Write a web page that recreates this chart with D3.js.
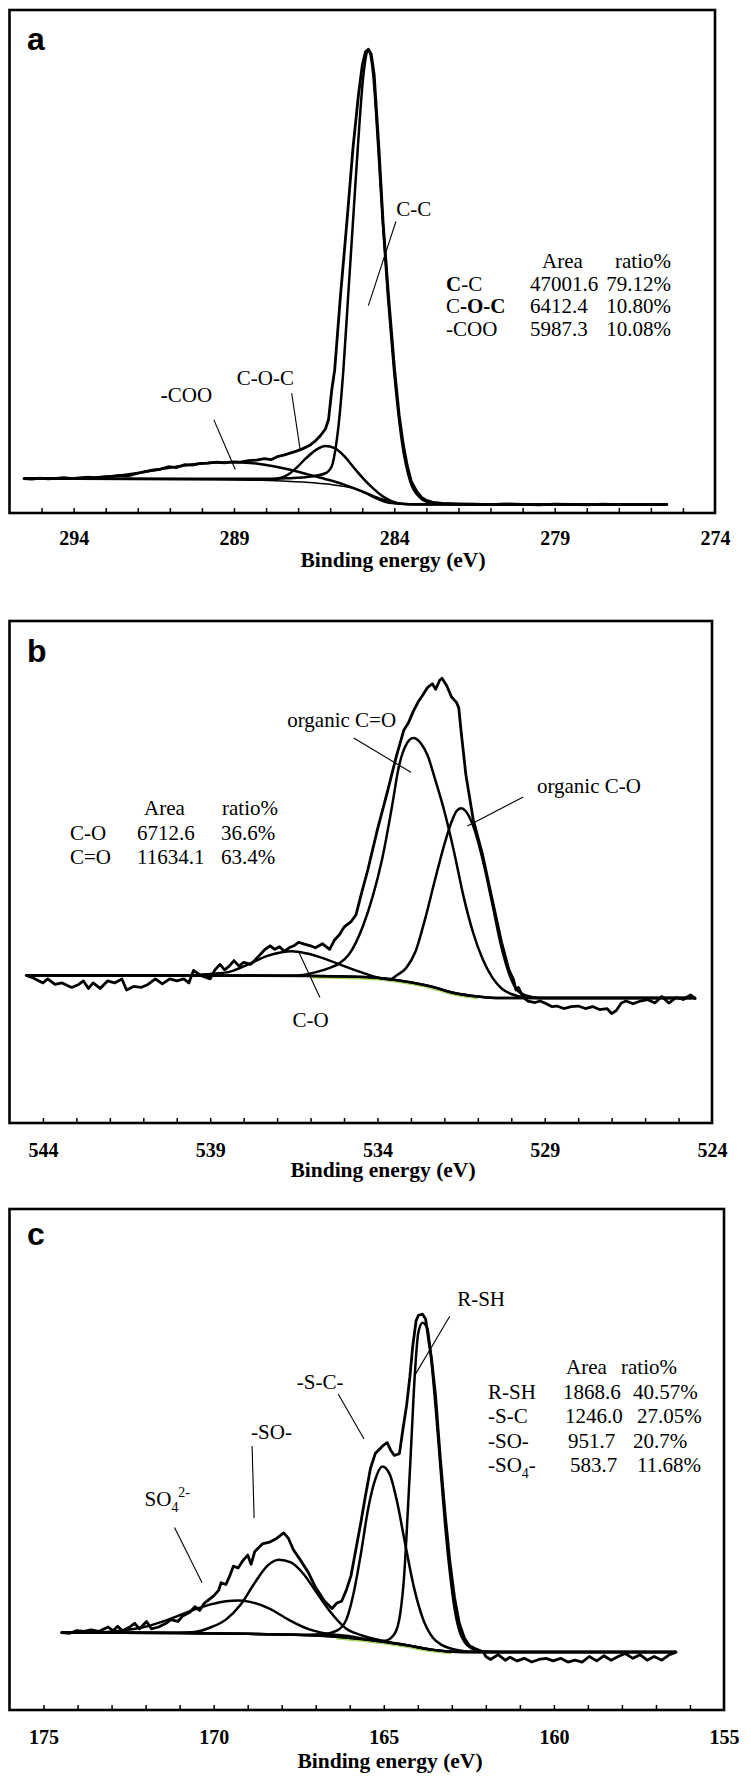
<!DOCTYPE html>
<html><head><meta charset="utf-8">
<script src="https://cdn.jsdelivr.net/npm/d3@7"></script>
<style>
body{margin:0;background:#fff}svg{display:block}
svg text{font-family:"Liberation Serif","Times New Roman","DejaVu Serif",serif}
svg text.sans{font-family:"Liberation Sans",Arial,"DejaVu Sans",sans-serif}
</style>
</head><body>
<svg id="chart" width="751" height="1779"></svg>
<script>
// ---------------- DATA ----------------
// x domains (binding energy, eV; reversed) and tick labels
const xDomainA = [296, 274], xDomainB = [545, 524], xDomainC = [176, 155];
const tickLabelsA = [294, 289, 284, 279, 274];
const tickLabelsB = [544, 539, 534, 529, 524];
const tickLabelsC = [175, 170, 165, 160, 155];
const axisTitle = "Binding energy (eV)";

// Panel a: C 1s  [eV, intensity (a.u.)]
const rawA = [[295.55,6.85],[295.3,6.75],[295.05,6.95],[294.8,6.8],[294.55,6.9],[294.3,7.05],[294.05,6.85],[293.8,7.0],[293.55,7.15],[293.3,6.95],[293.05,7.2],[292.8,7.3],[292.55,7.5],[292.3,7.4],[292.05,7.8],[291.8,8.2],[291.55,8.5],[291.3,8.7],[291.05,9.2],[290.8,9.0],[290.55,9.6],[290.3,9.5],[290.05,9.85],[289.8,9.9],[289.55,10.1],[289.3,9.95],[289.05,10.15],[288.8,10.1],[288.55,10.4],[288.3,10.5],[288.05,10.8],[287.85,10.6],[287.65,11.2],[287.45,11.5],[287.25,11.9],[287.05,12.3],[286.85,12.8],[286.65,13.4],[286.45,14.4],[286.3,15.4],[286.15,16.7],[286.05,18.6],[285.95,24.5],[285.86,28.4],[285.68,43.1],[285.48,57.8],[285.29,72.5],[285.12,83.0],[285.0,89.0],[284.9,91.7],[284.81,92.2],[284.72,91.2],[284.63,87.3],[284.48,72.5],[284.35,57.8],[284.18,43.1],[283.99,28.4],[283.85,19.5],[283.72,13.6],[283.6,9.5],[283.47,6.3],[283.3,4.3],[283.15,3.1],[283.0,2.5],[282.8,2.1],[282.5,1.9],[282.0,1.8],[281.5,1.75],[281,1.65],[280.5,1.8],[280,1.7],[279.5,1.6],[279,1.75],[278.5,1.7],[278,1.62],[277.5,1.78],[277,1.68],[276.5,1.72],[276,1.65],[275.5,1.7]];
const ccA = [[295.55,6.85],[290,6.8],[288,6.8],[287.35,6.9],[286.6,7.25],[286.15,7.9],[285.95,9.3],[285.84,12.5],[285.74,17.3],[285.59,28.3],[285.44,43.1],[285.29,57.8],[285.14,72.5],[284.96,87.3],[284.81,91.8],[284.66,87.3],[284.5,72.5],[284.36,57.8],[284.2,43.1],[284.01,28.4],[283.75,13.6],[283.5,6.2],[283.22,3.2],[282.9,2.1],[282.0,1.75],[275.49,1.7]];
const cocA = [[295.55,6.85],[289,6.65],[288,6.6],[287.6,6.9],[287.35,7.5],[287.05,9.0],[286.75,10.9],[286.45,12.5],[286.15,13.3],[285.86,12.9],[285.56,11.3],[285.26,9.0],[284.96,6.8],[284.66,4.9],[284.36,3.3],[284.07,2.3],[283.7,1.8],[283.0,1.7],[275.49,1.7]];
const cooA = [[295.55,6.85],[294,6.9],[293,7.2],[292.5,7.5],[292,7.95],[291.5,8.5],[291,9.0],[290.5,9.5],[290,9.85],[289.5,10.05],[289,10.1],[288.5,9.95],[288,9.55],[287.5,8.95],[287,8.2],[286.5,7.35],[286,6.5],[285.5,5.5],[285,4.3],[284.6,3.2],[284.2,2.3],[283.8,1.85],[283.3,1.72],[275.49,1.7]];
const bgA = [[295.55,6.85],[291,6.8],[289,6.65],[287.5,6.35],[286.5,6.0],[286,5.7],[285.5,5.2],[285.2,4.7],[284.9,3.9],[284.6,2.9],[284.3,2.15],[284.0,1.85],[283.5,1.72],[275.49,1.7]];

// Panel b: O 1s
const rawB = [[544.5,29.4],[544.29,28.9],[544.0,27.9],[543.86,28.7],[543.64,27.6],[543.43,27.9],[543.14,27.0],[542.93,27.6],[542.79,28.3],[542.64,26.8],[542.5,27.9],[542.29,26.8],[542.07,28.3],[541.86,27.9],[541.64,28.7],[541.5,26.5],[541.29,27.2],[541.07,27.0],[540.86,27.6],[540.64,28.7],[540.43,27.7],[540.21,28.7],[540.0,28.3],[539.79,28.7],[539.64,27.9],[539.5,30.4],[539.29,29.4],[539.0,28.7],[538.86,30.5],[538.71,31.6],[538.57,30.5],[538.43,31.25],[538.29,32.35],[538.14,31.25],[538.0,32.0],[537.79,31.6],[537.57,33.1],[537.36,34.6],[537.21,35.3],[537.07,34.6],[536.93,35.1],[536.79,34.2],[536.64,34.9],[536.5,35.3],[536.36,36.0],[536.21,35.7],[536.0,35.3],[535.86,34.9],[535.64,35.7],[535.43,34.6],[535.29,36.4],[535.14,37.5],[535.0,39.0],[534.79,40.1],[534.64,41.5],[534.5,45.2],[534.29,50.4],[534.0,58.5],[533.71,65.8],[533.43,73.2],[533.21,78.3],[533.07,79.8],[532.93,82.0],[532.79,83.8],[532.64,85.3],[532.5,86.8],[532.36,87.5],[532.26,86.4],[532.14,88.2],[532.07,88.6],[531.93,87.1],[531.79,84.9],[531.64,83.8],[531.57,82.7],[531.5,78.0],[531.36,69.5],[531.14,60.5],[530.86,53.5],[530.57,44.5],[530.29,36.0],[530.07,30.5],[529.93,28.5],[529.86,26.5],[529.79,27.0],[529.64,25.0],[529.5,24.3],[529.29,24.0],[529.14,24.3],[529.0,23.9],[528.79,23.2],[528.64,23.3],[528.43,22.8],[528.21,23.2],[528.0,23.3],[527.79,22.8],[527.57,23.2],[527.36,22.6],[527.14,22.8],[527.0,21.8],[526.86,22.4],[526.71,23.9],[526.57,24.3],[526.36,23.75],[526.14,24.3],[525.93,24.6],[525.71,23.9],[525.5,25.2],[525.29,23.9],[525.07,25.0],[524.86,24.6],[524.64,25.5],[524.5,24.8]];
const coB = [[544.5,29.4],[539.5,29.45],[539,29.7],[538.43,30.1],[537.86,31.6],[537.29,33.3],[536.86,34.0],[536.57,34.2],[536.14,33.8],[535.57,32.7],[535.0,31.25],[534.43,29.9],[534.0,29.0],[533.2,28.25],[532.4,27.2],[531.7,25.9],[531,25.2],[530.3,24.9],[524.5,24.9]];
const orgCeqOB = [[544.5,29.4],[537,29.35],[536.4,29.4],[535.86,30.0],[535.43,30.9],[535.14,31.8],[534.86,33.5],[534.43,39.3],[534.14,45.2],[533.86,52.6],[533.57,62.9],[533.36,71.0],[533.14,75.4],[532.93,76.7],[532.71,75.7],[532.5,73.2],[532.29,68.75],[532.0,62.1],[531.71,54.0],[531.43,45.2],[531.14,37.9],[530.86,32.7],[530.57,29.0],[530.29,26.8],[530.0,25.7],[529.57,25.0],[528.86,24.9],[524.5,24.9]];
const orgCOB = [[544.5,29.4],[536,29.3],[535,29.2],[534,28.95],[533.6,28.7],[533.43,29.4],[533.14,30.9],[532.86,34.2],[532.57,40.8],[532.29,48.2],[532.0,55.5],[531.79,59.9],[531.64,62.1],[531.5,62.7],[531.36,62.1],[531.14,59.2],[530.86,52.6],[530.57,43.75],[530.29,34.9],[530.07,29.8],[529.86,26.8],[529.57,25.4],[529.14,24.9],[524.5,24.9]];
const bgB = [[544.5,29.4],[538,29.4],[536,29.3],[535,29.2],[534,28.9],[533.2,28.2],[532.4,27.2],[531.7,25.9],[531,25.2],[530.3,24.9],[524.5,24.9]];

// Panel c: S 2p
const rawC = [[174.47,15.46],[174.23,15.32],[174.02,15.83],[173.81,15.68],[173.6,15.98],[173.38,15.68],[173.1,16.57],[172.96,15.83],[172.82,16.72],[172.68,15.83],[172.46,16.57],[172.32,17.3],[172.18,16.2],[171.97,17.67],[171.83,16.2],[171.62,16.57],[171.4,17.3],[171.26,18.04],[171.05,17.67],[170.91,18.78],[170.7,19.51],[170.55,20.62],[170.41,19.88],[170.27,21.35],[170.13,22.09],[169.99,22.83],[169.85,23.93],[169.78,25.41],[169.64,25.04],[169.52,26.88],[169.42,28.72],[169.28,28.35],[169.14,29.82],[169.0,30.93],[168.9,29.09],[168.79,31.66],[168.57,33.14],[168.36,33.5],[168.15,34.24],[167.94,35.35],[167.8,34.24],[167.66,32.03],[167.44,29.82],[167.23,27.61],[167.02,24.67],[166.88,23.2],[166.74,21.72],[166.52,20.25],[166.38,21.35],[166.24,21.72],[166.1,23.93],[165.96,26.88],[165.82,32.03],[165.68,37.19],[165.53,43.08],[165.39,48.23],[165.25,51.18],[165.04,52.65],[164.9,53.39],[164.8,51.91],[164.69,50.81],[164.54,51.18],[164.43,56.33],[164.33,60.75],[164.23,66.64],[164.15,72.53],[164.05,77.69],[163.98,78.79],[163.86,79.01],[163.77,78.06],[163.67,73.27],[163.6,70.32],[163.48,62.96],[163.34,50.44],[163.2,39.4],[163.06,29.82],[162.92,22.46],[162.78,17.3],[162.63,14.36],[162.49,12.89],[162.28,12.15],[162.07,11.56],[162.0,10.68],[161.86,10.09],[161.64,11.05],[161.43,9.94],[161.29,10.53],[161.08,9.8],[160.87,10.31],[160.65,9.57],[160.44,10.09],[160.23,10.31],[160.02,9.8],[159.8,10.31],[159.59,9.57],[159.38,9.94],[159.17,9.57],[158.96,10.68],[158.74,9.8],[158.53,10.82],[158.32,9.94],[158.11,10.68],[157.9,11.27],[157.68,10.31],[157.47,11.05],[157.26,9.94],[157.05,10.68],[156.83,9.94],[156.62,10.97],[156.41,11.56]];
const rshC = [[174.47,15.46],[171,15.35],[169,15.2],[167.8,15.05],[166.4,14.65],[165.6,14.15],[164.97,13.8],[164.69,15.1],[164.51,19.51],[164.4,26.88],[164.29,40.13],[164.19,53.39],[164.09,66.64],[163.98,75.48],[163.86,77.32],[163.72,76.2],[163.62,71.06],[163.48,60.75],[163.34,48.97],[163.2,37.19],[163.06,27.61],[162.92,20.25],[162.78,15.83],[162.63,13.62],[162.42,12.3],[162.14,11.71],[161.5,11.56],[156.41,11.56]];
const scC = [[174.47,15.46],[171,15.35],[169,15.2],[167.8,15.05],[167.23,15.02],[166.81,15.1],[166.38,15.83],[166.1,18.04],[165.89,23.2],[165.67,31.3],[165.46,40.13],[165.25,46.03],[165.04,48.6],[164.83,47.13],[164.61,41.6],[164.4,34.24],[164.12,24.67],[163.84,18.04],[163.55,14.36],[163.27,12.89],[162.85,12.0],[162.42,11.63],[161.8,11.56],[156.41,11.56]];
const soC = [[174.47,15.46],[171.5,15.4],[170.63,15.5],[170.06,16.57],[169.64,18.04],[169.21,21.0],[168.79,25.41],[168.43,28.72],[168.08,29.97],[167.73,29.45],[167.37,27.25],[166.95,23.2],[166.52,19.15],[166.1,16.2],[165.67,14.95],[165.1,13.9],[164.3,12.95],[163.6,12.05],[163,11.65],[162.5,11.56],[156.41,11.56]];
const so4C = [[174.47,15.46],[173.5,15.5],[172.75,15.83],[172.04,16.57],[171.33,18.04],[170.63,19.88],[170.06,21.13],[169.64,21.72],[169.28,21.87],[168.93,21.58],[168.36,20.25],[167.8,18.04],[167.23,16.2],[166.66,15.24],[166.1,14.8],[165.5,14.1],[165,13.6],[164.3,12.9],[163.6,12.05],[163,11.65],[162.5,11.56],[156.41,11.56]];
const bgC = [[174.47,15.46],[171,15.35],[169,15.2],[167.8,15.05],[166.4,14.6],[165.6,14.1],[165,13.6],[164.3,12.9],[163.6,12.05],[163,11.65],[162.5,11.56],[156.41,11.56]];

// Tables (area / ratio)
const tableHead = ["Area", "ratio%"];
const tableRowsA = [["C-C","47001.6","79.12%"],["C-O-C","6412.4","10.80%"],["-COO","5987.3","10.08%"]];
const tableRowsB = [["C-O","6712.6","36.6%"],["C=O","11634.1","63.4%"]];
const tableRowsC = [["R-SH","1868.6","40.57%"],["-S-C","1246.0","27.05%"],["-SO-","951.7","20.7%"],["-SO4-","583.7","11.68%"]];

// Peak labels: [text, eV, intensity] and leader lines [eV1, I1, eV2, I2]
const labelsA = [["C-C",283.39,59.05],["C-O-C",288.02,25.35],["-COO",290.48,21.97]];
const leadersA = [[283.95,57.95,284.81,41.23],[287.2,23.8,286.93,12.31],[289.63,18.57,288.96,8.63]];
const labelsB = [["organic C=O",535.07,78.96],["organic C-O",527.68,65.74],["C-O",536.0,19.18]];
const leadersB = [[534.71,76.69,533.0,69.86],[529.64,64.94,531.31,59.18],[536.36,34.18,535.72,25.0]];
const labelsC = [["R-SH",162.14,80.72],["-S-C-",166.87,64.07],["-SO-",168.3,54.09],["SO42-",172.03,40.8]];
const leadersC = [[163.06,78.58,164.09,66.79],[166.34,63.07,165.58,54.09],[168.87,52.7,168.81,38.3],[171.15,36.43,170.34,25.41]];

// ---------------- DRAWING ----------------
const SERIF = '"Liberation Serif","Times New Roman","DejaVu Serif",serif';
const SANS = '"Liberation Sans",Arial,"DejaVu Sans",sans-serif';
const svg = d3.select("#chart");
svg.append("rect").attr("width",751).attr("height",1779).attr("fill","#fff");

const RICH = {
  "table:C-C": [["C","b"],["-C",""]],
  "table:C-O-C": [["C",""],["-O-C","b"]],
  "table:-SO4-": [["-SO",""],["4","sub"],["-",""]],
  "label:-COO": [["-","b"],["COO",""]],
  "label:SO42-": [["SO",""],["4","sub"],["2-","sup"]]
};
function richText(g, key, str, x, y, anchor, size){
  const t = g.append("text").attr("x",x).attr("y",y).attr("text-anchor",anchor)
    .style("font-family",SERIF).style("font-size",size+"px").attr("fill","#000");
  const parts = RICH[key+":"+str] || [[str,""]];
  let shift = 0;
  parts.forEach(([s,mode])=>{
    const ts = t.append("tspan").text(s);
    const target = mode==="sub" ? size*0.3 : mode==="sup" ? -size*0.4 : 0;
    if (target !== shift){ ts.attr("dy", target-shift); shift = target; }
    if (mode==="sub"||mode==="sup") ts.style("font-size", (size*0.66)+"px");
    if (mode==="b") ts.style("font-weight","bold");
  });
  return t;
}

const panels = [
  { letter:"a", frame:{l:9.5,t:10,r:715,b:513}, xd:xDomainA, labels:tickLabelsA, letterY:50, tickY:545, titleX:393, titleY:567,
    raw:rawA, comps:[cooA,cocA,ccA], bg:bgA, bgW:1.5, green:null,
    peakLabels:labelsA, leaders:leadersA,
    table:{rows:tableRowsA, headY:268, dy:22.5, headX:[542,671], headAnchor:["start","end"], nameX:446, areaX:[530,530,530], ratioX:[671,671,671], ratioAnchor:"end"} },
  { letter:"b", frame:{l:9.5,t:621,r:712,b:1123}, xd:xDomainB, labels:tickLabelsB, letterY:662, tickY:1157, titleX:383, titleY:1177,
    raw:rawB, comps:[coB,orgCeqOB,orgCOB], bg:bgB, bgW:2.4, green:[536.5,530.5],
    peakLabels:labelsB, leaders:leadersB,
    table:{rows:tableRowsB, headY:815, dy:24.5, headX:[144,222], headAnchor:["start","start"], nameX:70, areaX:[137,137], ratioX:[221,221], ratioAnchor:"start"} },
  { letter:"c", frame:{l:9.5,t:1209,r:724,b:1710}, xd:xDomainC, labels:tickLabelsC, letterY:1245, tickY:1744, titleX:390, titleY:1768,
    raw:rawC, comps:[so4C,soC,scC,rshC], bg:bgC, bgW:2.4, green:[167.5,163],
    peakLabels:labelsC, leaders:leadersC,
    table:{rows:tableRowsC, headY:1374, dy:24.5, headX:[566,621], headAnchor:["start","start"], nameX:488, areaX:[563,565,568,570], ratioX:[633,637,633,637], ratioAnchor:"start"} }
];

panels.forEach(p=>{
  const f = p.frame;
  const x = d3.scaleLinear().domain(p.xd).range([f.l, f.r]);
  const y = d3.scaleLinear().domain([0,100]).range([f.b, f.t]);
  const g = svg.append("g");
  const line = d3.line().x(d=>x(d[0])).y(d=>y(d[1]));
  const smooth = d3.line().x(d=>x(d[0])).y(d=>y(d[1])).curve(d3.curveMonotoneX);

  // minor ticks (inside, every 1 eV)
  const minor = x.ticks(22).filter(v => v !== p.xd[0] && v !== p.xd[1]);
  g.append("g").attr("transform",`translate(0,${f.b})`)
    .call(d3.axisBottom(x).tickValues(minor).tickSize(-5).tickFormat(""))
    .call(a=>a.select(".domain").remove())
    .call(a=>a.selectAll("line").attr("stroke","#000").attr("stroke-width",1.5));
  // tick labels
  g.append("g").attr("transform",`translate(0,${f.b})`)
    .call(d3.axisBottom(x).tickValues(p.labels).tickSize(0).tickFormat(d3.format("d")))
    .call(a=>a.select(".domain").remove())
    .call(a=>a.selectAll("text").attr("y", p.tickY - f.b).attr("dy",null)
        .style("font-family",SERIF).style("font-size","20px").style("font-weight","bold").attr("fill","#000"));
  // axis title
  g.append("text").attr("x",p.titleX).attr("y",p.titleY).attr("text-anchor","middle")
    .style("font-family",SERIF).style("font-size","21.5px").style("font-weight","bold").text(axisTitle);

  // green tint under background
  if (p.green){
    g.append("path").datum(p.bg.filter(d=>d[0]<=p.green[0] && d[0]>=p.green[1]))
      .attr("d",smooth).attr("fill","none").attr("stroke","#a9d25a").attr("stroke-width",2.2)
      .attr("transform","translate(0,1.6)");
  }
  // background
  g.append("path").datum(p.bg).attr("d",smooth).attr("fill","none")
    .attr("stroke","#000").attr("stroke-width",p.bgW).attr("stroke-linejoin","round");
  // components
  p.comps.forEach(c=>{
    g.append("path").datum(c).attr("d",smooth).attr("fill","none")
      .attr("stroke","#000").attr("stroke-width",2.5).attr("stroke-linejoin","round");
  });
  // raw data
  g.append("path").datum(p.raw).attr("d",line).attr("fill","none")
    .attr("stroke","#000").attr("stroke-width",2.8).attr("stroke-linejoin","round").attr("stroke-linecap","round");

  // leaders and peak labels
  p.leaders.forEach(l=>{
    g.append("line").attr("x1",x(l[0])).attr("y1",y(l[1])).attr("x2",x(l[2])).attr("y2",y(l[3]))
      .attr("stroke","#000").attr("stroke-width",1.1);
  });
  p.peakLabels.forEach(([t,ex,ey])=>{
    const anchor = t==="SO42-" ? "start" : "middle";
    richText(g,"label",t,x(ex),y(ey),anchor,21);
  });

  // table
  const tb = p.table;
  tableHead.forEach((h,i)=> richText(g,"head",h,tb.headX[i],tb.headY,tb.headAnchor[i],21));
  tb.rows.forEach((r,i)=>{
    const yy = tb.headY + tb.dy*(i+1);
    richText(g,"table",r[0],tb.nameX,yy,"start",21);
    richText(g,"table",r[1],tb.areaX[i],yy,"start",21);
    richText(g,"table",r[2],tb.ratioX[i],yy,tb.ratioAnchor,21);
  });

  // panel letter
  g.append("text").attr("class","sans").attr("x",27).attr("y",p.letterY)
    .style("font-family",SANS).style("font-size","32px").style("font-weight","bold").text(p.letter);

  // frame
  g.append("rect").attr("x",f.l).attr("y",f.t).attr("width",f.r-f.l).attr("height",f.b-f.t)
    .attr("fill","none").attr("stroke","#000").attr("stroke-width",2.6);
});
</script>
</body></html>
